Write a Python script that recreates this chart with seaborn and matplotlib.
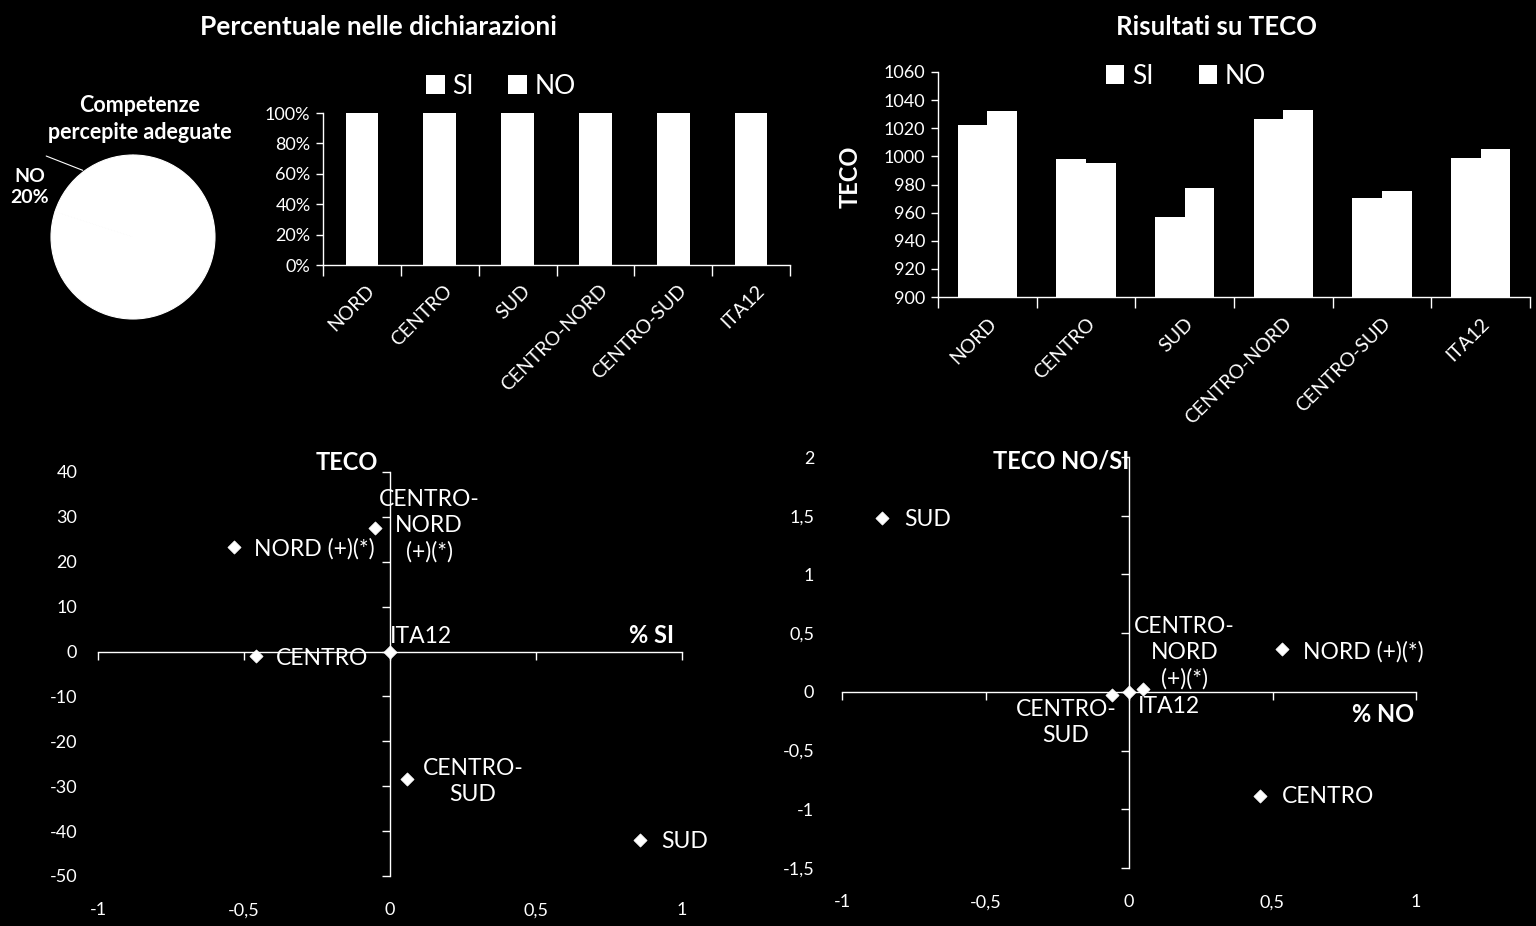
# competenze percepite e risultati TECO per area
import numpy as np
import pandas as pd
import seaborn as sns
import matplotlib.pyplot as plt
from matplotlib.patches import Patch
from matplotlib.ticker import FuncFormatter
from matplotlib.transforms import ScaledTranslation

# data
aree = ['NORD', 'CENTRO', 'SUD', 'CENTRO-NORD', 'CENTRO-SUD', 'ITA12']

pie_labels = ['SI', 'NO']
pie_values = [80, 20]

perc_si = [80, 79, 78, 81, 79, 80]
perc_no = [20, 21, 22, 19, 21, 20]

teco_si = [1022.0, 997.8, 956.8, 1026.4, 970.3, 998.7]
teco_no = [1032.5, 995.6, 977.4, 1033.3, 975.7, 1005.6]

sc1_names = ['NORD (+)(*)', 'CENTRO-\nNORD\n(+)(*)', 'CENTRO', 'ITA12', 'CENTRO-\nSUD', 'SUD']
sc1_x = [-0.533, -0.051, -0.46, 0.0, 0.058, 0.857]
sc1_y = [23.4, 27.5, -1.0, 0.0, -28.5, -42.0]

sc2_names = ['SUD', 'NORD (+)(*)', 'CENTRO-\nNORD\n(+)(*)', 'ITA12', 'CENTRO-\nSUD', 'CENTRO']
sc2_x = [-0.861, 0.532, 0.050, 0.0, -0.059, 0.458]
sc2_y = [1.48, 0.361, 0.026, 0.0, -0.031, -0.889]

# label offsets (pixels) and alignment
sc1_off = [(20, -2, 'left'), (54, 2, 'center'), (20, -2, 'left'), (0, 15, 'left'), (66, -2, 'center'), (21, -1, 'left')]
sc2_off = [(22, -1, 'left'), (21, -2, 'left'), (41, 36, 'center'), (9, -15, 'left'), (-46, -27, 'center'), (21, 0, 'left')]

sns.set_theme(style='white')
plt.rcParams['font.family'] = ['Lato', 'DejaVu Sans']
plt.rcParams['text.color'] = 'white'

W, H = 1536, 926
fig = plt.figure(figsize=(W / 100, H / 100), dpi=100, facecolor='black')


def rect(x0, y0, x1, y1):
    return [x0 / W, 1 - y1 / H, (x1 - x0) / W, (y1 - y0) / H]


comma = FuncFormatter(lambda v, p: ('%g' % v).replace('.', ','))

# titles
fig.text(378 / W, 1 - 27 / H, 'Percentuale nelle dichiarazioni', ha='center', va='center',
         fontsize=19, fontweight='bold')
fig.text(1216 / W, 1 - 27 / H, 'Risultati su TECO', ha='center', va='center',
         fontsize=18.5, fontweight='bold')

# pie
axp = fig.add_axes(rect(51, 155, 215, 319))
wedges, _ = axp.pie(pie_values, colors=['white', 'white'], startangle=90, counterclock=False,
                    wedgeprops=dict(linewidth=0.8, edgecolor='white'))
axp.set_xlim(-1, 1)
axp.set_ylim(-1, 1)
axp.set_aspect('equal')
w = wedges[1]
mid = np.deg2rad((w.theta1 + w.theta2) / 2)
axp.annotate('', xy=(0.99 * np.cos(mid), 0.99 * np.sin(mid)), xytext=(-1.09, 1.0),
             arrowprops=dict(arrowstyle='-', color='white', lw=0.8), annotation_clip=False)
axp.text(-1.256, 0.61, 'NO\n20%', ha='center', va='center', fontsize=14, fontweight='bold',
         linespacing=1.3, clip_on=False)
fig.text(140 / W, 1 - 119 / H, 'Competenze\npercepite adeguate', ha='center', va='center',
         fontsize=15.5, fontweight='bold', linespacing=1.4)


def style_bar_axes(ax, dx, dy):
    ax.set_facecolor('black')
    for s in ['top', 'right']:
        ax.spines[s].set_visible(False)
    for s in ['left', 'bottom']:
        ax.spines[s].set_color('white')
        ax.spines[s].set_linewidth(1)
    ax.set_xlabel('')
    ax.set_ylabel('')
    ax.set_xticks(range(len(aree)))
    ax.set_xticklabels(aree, rotation=45, ha='right', va='center', rotation_mode='anchor')
    ax.set_xticks(np.arange(-0.5, len(aree), 1), minor=True)
    ax.set_xlim(-0.5, len(aree) - 0.5)
    ax.tick_params(axis='x', which='major', length=0, pad=20, labelsize=14, labelcolor='white')
    ax.tick_params(axis='x', which='minor', length=8, width=1, color='white', direction='out', bottom=True)
    ax.tick_params(axis='y', length=5, width=1, color='white', direction='out', left=True,
                   labelsize=13, labelcolor='white', pad=4)
    shift = ScaledTranslation(dx / 100, dy / 100, fig.dpi_scale_trans)
    for t in ax.get_xticklabels():
        t.set_transform(t.get_transform() + shift)


# bar 1: percentuale
ax1 = fig.add_axes(rect(323, 113, 790, 265))
sns.barplot(x=aree, y=perc_si, color='white', saturation=1, width=0.42, linewidth=0, ax=ax1)
ax1.bar(range(len(aree)), perc_no, bottom=perc_si, width=0.42, color='white', linewidth=0)
ax1.set_ylim(0, 100)
ax1.set_yticks(range(0, 101, 20))
ax1.yaxis.set_major_formatter(FuncFormatter(lambda v, p: '%d%%' % v))
style_bar_axes(ax1, 10, 5)
h = [Patch(facecolor='white', edgecolor='none') for _ in pie_labels]
ax1.legend(h, pie_labels, loc='center', bbox_to_anchor=(501 / W, 1 - 86 / H), bbox_transform=fig.transFigure,
           ncol=2, frameon=False, fontsize=19, labelcolor='white', handlelength=0.7, handleheight=0.7,
           handletextpad=0.3, columnspacing=1.3)

# bar 2: TECO
df = pd.DataFrame({'area': aree * 2, 'gruppo': ['SI'] * 6 + ['NO'] * 6, 'teco': teco_si + teco_no})
ax2 = fig.add_axes(rect(938, 72, 1530, 297))
sns.barplot(data=df, x='area', y='teco', hue='gruppo', palette={'SI': 'white', 'NO': 'white'},
            saturation=1, width=0.6, linewidth=0, legend=False, ax=ax2)
ax2.set_ylim(900, 1060)
ax2.set_yticks(range(900, 1061, 20))
style_bar_axes(ax2, 6, 4)
ax2.legend(h, pie_labels, loc='center', bbox_to_anchor=(1186 / W, 1 - 76 / H), bbox_transform=fig.transFigure,
           ncol=2, frameon=False, fontsize=19, labelcolor='white', handlelength=0.7, handleheight=0.7,
           handletextpad=0.3, columnspacing=1.7)
fig.text(850 / W, 1 - 177 / H, 'TECO', rotation=90, ha='center', va='center', fontsize=17,
         fontweight='bold')


def quadrant(r, xs, ys, names_, offs, xlim, ylim, ystep, ypad, key):
    ax = fig.add_axes(r)
    ax.set_facecolor('black')
    sns.scatterplot(x=xs, y=ys, marker='D', color='white', s=45, edgecolor='white', linewidth=0.5,
                    ax=ax, zorder=3, clip_on=False)
    ax.set_xlim(*xlim)
    ax.set_ylim(*ylim)
    ax.set_xticks(np.arange(xlim[0], xlim[1] + 0.01, 0.5))
    ax.set_yticks(np.arange(ylim[0], ylim[1] + ystep / 100, ystep))
    ax.xaxis.set_major_formatter(comma)
    ax.yaxis.set_major_formatter(comma)
    for s in ['top', 'right']:
        ax.spines[s].set_visible(False)
    for s in ['left', 'bottom']:
        ax.spines[s].set_position(('data', 0))
        ax.spines[s].set_color('white')
        ax.spines[s].set_linewidth(1)
    ax.tick_params(length=6, width=1, color='white', direction='out', left=True, bottom=True,
                   labelleft=False, labelbottom=False)
    # tick labels at the plot edges
    lab = fig.add_axes(r, sharex=ax, sharey=ax, label=key)
    lab.patch.set_visible(False)
    for s in lab.spines.values():
        s.set_visible(False)
    lab.tick_params(length=0, labelsize=13, labelcolor='white')
    lab.tick_params(axis='x', pad=19)
    lab.tick_params(axis='y', pad=ypad)
    lab.grid(False)
    for n, x, y, (dx, dy, ha) in zip(names_, xs, ys, offs):
        ax.annotate(n, (x, y), xytext=(dx, dy), textcoords='offset pixels', ha=ha, va='center',
                    fontsize=16.5, color='white', linespacing=1.3, annotation_clip=False)
    return ax


ax3 = quadrant(rect(98, 472, 682, 876), sc1_x, sc1_y, sc1_names, sc1_off, (-1, 1), (-50, 40), 10, 15, 'q1')
ax3.text(-0.04, 42.2, 'TECO', ha='right', va='center', fontsize=17, fontweight='bold', clip_on=False)
ax3.text(0.894, 3.6, '% SI', ha='center', va='center', fontsize=17, fontweight='bold')

ax4 = quadrant(rect(842, 457, 1416, 868), sc2_x, sc2_y, sc2_names, sc2_off, (-1, 1), (-1.5, 2), 0.5, 20, 'q2')
ax4.text(0.0, 1.97, 'TECO NO/SI', ha='right', va='center', fontsize=17, fontweight='bold', clip_on=False)
ax4.text(0.885, -0.196, '% NO', ha='center', va='center', fontsize=17, fontweight='bold')

fig.savefig('out.png', dpi=100, facecolor='black')
